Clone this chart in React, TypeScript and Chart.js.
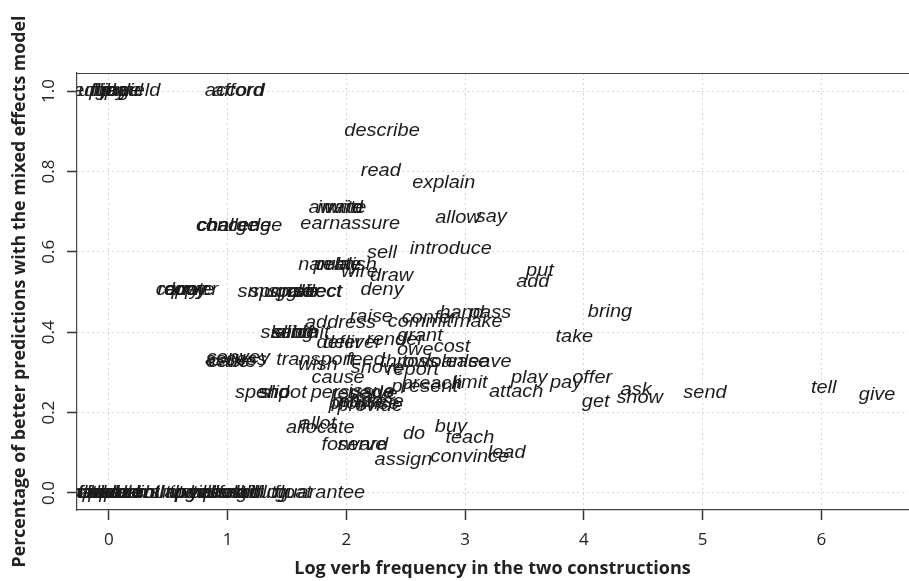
import React, { useEffect, useRef } from "react";
import { Chart, registerables } from "chart.js";

Chart.register(...registerables);

// Verb labels, their log frequency (x) and share of better predictions (y)
const verbs = [
  "pledge", "supply", "flip", "fling", "trade", "haul", "yield", "accord", "afford",
  "describe", "read", "explain", "award", "invite", "write", "earn", "assure", "allow", "say",
  "charge", "challenge", "concede", "introduce", "sell", "narrate", "publish", "relay", "wire", "draw",
  "deny", "sponsor", "smuggle", "direct", "reflect", "spare", "carry", "quote", "copy", "lower", "repay",
  "put", "add", "bring", "take", "hand", "pass", "make", "raise", "address", "confer", "commit",
  "grant", "render", "deliver", "defer", "sketch", "submit", "sling", "slide", "owe", "cost",
  "convey", "cable", "assess", "cede", "transport", "wish", "feed", "throw", "toss", "loan", "lease", "leave",
  "report", "shove", "cause", "persuade", "reserve", "issue", "promise", "provide", "refuse", "propose",
  "spend", "slip", "shoot", "present", "preach", "limit", "attach", "play", "pay", "offer", "get",
  "ask", "show", "send", "tell", "give", "allocate", "allot", "forward", "serve", "do", "buy", "teach",
  "lead", "convince", "assign",
  "bat", "bounce", "fax", "flick", "heave", "hurl", "kick", "lob", "peddle", "phone", "pose", "push",
  "radio", "rent", "roll", "shunt", "slap", "tip", "tug", "vote", "will", "yell", "bake", "bequeath",
  "cook", "drag", "email", "fetch", "hit", "bill", "cut", "flog", "float", "guarantee",
];

const logFreq = [
  -0.18, -0.1, -0.05, 0.02, 0.08, 0.13, 0.26, 1.06, 1.09,
  2.3, 2.29, 2.82, 1.91, 1.95, 1.99, 1.78, 2.2, 2.94, 3.22,
  1.0, 1.1, 1.05, 2.88, 2.3, 1.86, 1.99, 1.93, 2.11, 2.38,
  2.3, 1.48, 1.4, 1.76, 1.73, 1.55, 0.58, 0.68, 0.64, 0.72, 0.62,
  3.63, 3.57, 4.22, 3.92, 2.97, 3.21, 3.11, 2.21, 1.95, 2.7, 2.62,
  2.62, 2.41, 2.05, 1.94, 1.52, 1.61, 1.55, 1.58, 2.58, 2.89,
  1.09, 1.04, 1.07, 1.0, 1.74, 1.76, 2.16, 2.49, 2.62, 2.83, 3.0, 3.19,
  2.56, 2.26, 1.93, 2.05, 2.15, 2.21, 2.15, 2.2, 2.11, 2.18,
  1.29, 1.4, 1.46, 2.66, 2.72, 3.04, 3.43, 3.54, 3.85, 4.07, 4.1,
  4.44, 4.47, 5.02, 6.02, 6.47, 1.78, 1.76, 2.07, 2.13, 2.57, 2.88, 3.04,
  3.35, 3.04, 2.48,
  -0.22, -0.18, -0.15, -0.12, -0.08, -0.05, -0.02, 0.0, 0.03, 0.06, 0.1, 0.14,
  0.2, 0.28, 0.35, 0.42, 0.5, 0.56, 0.62, 0.68, 0.74, 0.8, 0.86, 0.9,
  0.95, 1.0, 1.05, 1.1, 1.15, 1.2, 1.3, 1.38, 1.55, 1.78,
];

const pctBetter = [
  1.0, 1.0, 1.0, 1.0, 1.0, 1.0, 1.0, 1.0, 1.0,
  0.9, 0.8, 0.77, 0.71, 0.71, 0.71, 0.669, 0.669, 0.684, 0.687,
  0.664, 0.664, 0.664, 0.607, 0.597, 0.567, 0.567, 0.567, 0.55, 0.54,
  0.505, 0.5, 0.5, 0.5, 0.5, 0.5, 0.505, 0.505, 0.505, 0.505, 0.505,
  0.552, 0.525, 0.45, 0.388, 0.448, 0.448, 0.425, 0.438, 0.423, 0.435, 0.425,
  0.39, 0.38, 0.373, 0.373, 0.398, 0.398, 0.398, 0.398, 0.356, 0.363,
  0.335, 0.325, 0.33, 0.325, 0.331, 0.318, 0.331, 0.326, 0.326, 0.326, 0.326, 0.326,
  0.306, 0.311, 0.286, 0.249, 0.245, 0.25, 0.22, 0.215, 0.225, 0.225,
  0.249, 0.249, 0.249, 0.264, 0.27, 0.274, 0.251, 0.286, 0.274, 0.286, 0.226,
  0.256, 0.236, 0.249, 0.261, 0.244, 0.162, 0.172, 0.119, 0.119, 0.147, 0.164, 0.137,
  0.1, 0.09, 0.082,
  0, 0, 0, 0, 0, 0, 0, 0, 0, 0, 0, 0,
  0, 0, 0, 0, 0, 0, 0, 0, 0, 0, 0, 0,
  0, 0, 0, 0, 0, 0, 0, 0, 0, 0,
];

const xTicks = [0, 1, 2, 3, 4, 5, 6];
const yTicks = [0, 0.2, 0.4, 0.6, 0.8, 1.0];
const xTitle = "Log verb frequency in the two constructions";
const yTitle = "Percentage of better predictions with the mixed effects model";

const wordLabels = {
  id: "wordLabels",
  afterDatasetsDraw(chart: any) {
    const { ctx, chartArea } = chart;
    const meta = chart.getDatasetMeta(0);
    ctx.save();
    ctx.beginPath();
    ctx.rect(chartArea.left, chartArea.top, chartArea.right - chartArea.left, chartArea.bottom - chartArea.top);
    ctx.clip();
    ctx.font = "italic 17.5px 'Liberation Sans', Arial, sans-serif";
    ctx.fillStyle = "#1c1c1c";
    ctx.textAlign = "center";
    ctx.textBaseline = "middle";
    meta.data.forEach((pt: any, i: number) => {
      ctx.save();
      ctx.translate(pt.x, pt.y);
      ctx.scale(1.14, 1);
      ctx.fillText(verbs[i], 0, 0);
      ctx.restore();
    });
    ctx.restore();
  },
  afterDraw(chart: any) {
    const { ctx, chartArea } = chart;
    ctx.save();
    ctx.strokeStyle = "#444";
    ctx.lineWidth = 1.2;
    ctx.beginPath();
    ctx.moveTo(chartArea.left, chartArea.top + 0.5);
    ctx.lineTo(chartArea.right + 2, chartArea.top + 0.5);
    ctx.stroke();
    ctx.restore();
  },
};

export default function App() {
  const ref = useRef<HTMLCanvasElement | null>(null);
  useEffect(() => {
    if (!ref.current) return;
    const chart = new Chart(ref.current, {
      type: "scatter",
      data: {
        datasets: [
          {
            label: "verbs",
            data: verbs.map((v, i) => ({ x: logFreq[i], y: pctBetter[i] })),
            pointRadius: 0,
            pointHoverRadius: 0,
          },
        ],
      },
      options: {
        animation: false,
        responsive: false,
        devicePixelRatio: 1,
        events: [],
        layout: { padding: { top: 73, left: 0, right: 1, bottom: 0 } },
        plugins: { legend: { display: false }, tooltip: { enabled: false } },
        scales: {
          x: {
            type: "linear",
            min: -0.269,
            max: 6.73,
            afterFit: (s: any) => { s.height = 71; },
            afterBuildTicks: (s: any) => { s.ticks = xTicks.map((v) => ({ value: v })); },
            ticks: {
              includeBounds: false,
              stepSize: 1,
              color: "#222",
              padding: 10,
              font: { family: "'Open Sans', sans-serif", size: 17 },
            },
            grid: {
              color: "#d4d4d4",
              lineWidth: 1,
              tickLength: 10,
              tickColor: "#333",
              tickWidth: 1.5,
              tickBorderDash: [1, 0],
            },
            border: { display: true, color: "#444", width: 1.2, dash: [2, 3] },
            title: {
              display: true,
              text: xTitle,
              color: "#222",
              font: { family: "'Open Sans', sans-serif", size: 18, weight: "bold" },
              padding: { top: 0, bottom: 1 },
            },
          },
          y: {
            type: "linear",
            min: -0.0423,
            max: 1.045,
            afterFit: (s: any) => { s.width = 77; },
            afterBuildTicks: (s: any) => { s.ticks = yTicks.map((v) => ({ value: v })); },
            ticks: {
              includeBounds: false,
              stepSize: 0.2,
              minRotation: 90,
              maxRotation: 90,
              crossAlign: "center",
              color: "#222",
              padding: 6,
              font: { family: "'Open Sans', sans-serif", size: 17 },
              callback: (v: any) => Number(v).toFixed(1),
            },
            grid: {
              color: "#d4d4d4",
              lineWidth: 1,
              tickLength: 10,
              tickColor: "#333",
              tickWidth: 1.5,
              tickBorderDash: [1, 0],
            },
            border: { display: true, color: "#444", width: 1.2, dash: [2, 3] },
            title: {
              display: true,
              text: yTitle,
              color: "#222",
              font: { family: "'Open Sans', sans-serif", size: 17.8, weight: "bold" },
              padding: { top: 9, bottom: 0 },
            },
          },
        },
      },
      plugins: [wordLabels],
    });
    return () => chart.destroy();
  }, []);

  return (
    <div style={{ position: "fixed", left: 0, top: 0, width: 909, height: 581, background: "#fff" }}>
      <canvas ref={ref} width={909} height={581} />
    </div>
  );
}
